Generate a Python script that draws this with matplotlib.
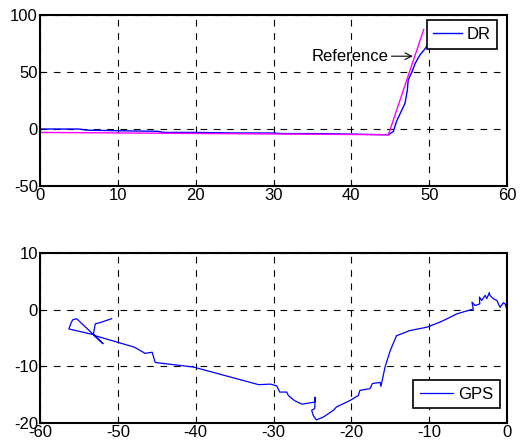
import matplotlib.pyplot as plt

plt.rcParams['font.family'] = ['Liberation Sans', 'DejaVu Sans']
plt.rcParams['font.size'] = 12
plt.rcParams['axes.unicode_minus'] = False

# top plot: DR heading vs reference
dr_x = [0, 5, 6, 10, 15, 16, 20, 25, 30, 31, 35, 40, 44.0, 44.76, 45.4, 45.8, 46.3,
        46.9, 47.2, 47.3, 47.8, 48.2, 48.8, 49.5, 49.9]
dr_y = [0, 0, -1, -1.5, -2, -3, -3, -3.5, -3.5, -4, -4, -4.5, -5, -5, -2.1, 6.6, 14,
        22.7, 34.4, 43, 50.4, 57.7, 65, 70.8, 75.2]
ref_x = [0, 44.76, 49.3]
ref_y = [-3, -5, 87.5]

# bottom plot: GPS track
gps_x = [0, -0.25, -0.46, -0.9, -1.3, -1.76, -2.2, -2.27, -2.6, -2.8, -3.25, -3.55, -3.5,
         -4.1, -4.5, -4.33, -6.46, -7.3, -8.6, -10.3, -12.5, -14.2, -15.0, -15.67, -16.2,
         -16.3, -17.3, -17.6, -18.9, -19.1, -20.2, -21.9, -22.3, -23.6, -24.5, -24.9,
         -25.1, -24.7, -24.67, -24.7, -24.9, -26.2, -26.4, -27.3, -28.1, -28.3, -29.2,
         -29.6, -30.4, -31.9, -40.3, -45.2, -45.4, -45.6, -46.5, -47.5, -47.9, -52.9,
         -53.15, -56.3, -56.0, -55.8, -55.3, -51.9, -53.15, -52.9, -52.3, -50.8]
gps_y = [0, 1.0, 1.2, 0.4, 1.6, 1.9, 2.5, 3.0, 1.9, 2.5, 1.6, 2.2, 1.0,
         0.7, 1.3, 0.1, -0.76, -1.35, -2.2, -3.1, -3.7, -4.6, -7.2, -10.1, -13.5,
         -12.8, -13.0, -13.9, -14.2, -15.1, -16.0, -17.1, -17.7, -18.9, -19.4, -18.6,
         -17.7, -17.4, -15.4, -16.3, -16.3, -16.6, -16.6, -16.0, -15.1, -14.5, -14.5,
         -13.4, -13.1, -13.2, -10.1, -9.3, -8.4, -7.5, -7.7, -6.9, -6.6, -4.6,
         -4.4, -3.4, -2.3, -1.8, -1.6, -6.0, -4.4, -2.5, -2.3, -1.6]


def style_axes(ax):
    for s in ax.spines.values():
        s.set_linewidth(1.5)
    ax.grid(True, color='black', linestyle=(0, (6, 6)), linewidth=0.8)
    ax.tick_params(direction='in', length=3, pad=1.5, labelsize=12)


fig = plt.figure(figsize=(5.2, 4.48), dpi=100)
ax1 = fig.add_axes([0.077, 0.585, 0.898, 0.381])
ax2 = fig.add_axes([0.077, 0.055, 0.898, 0.381])

ax1.plot(dr_x, dr_y, color='#0000ff', lw=1, label='DR')
ax1.plot(ref_x, ref_y, color='#ff00ff', lw=1)
ax1.set_xlim(0, 60)
ax1.set_ylim(-50, 100)
ax1.set_xticks(range(0, 61, 10))
ax1.set_yticks([-50, 0, 50, 100])
ax1.annotate('Reference', xy=(47.9, 64), xytext=(44.8, 64), ha='right', va='center',
             fontsize=12,
             arrowprops=dict(arrowstyle='->', color='black', lw=0.8, shrinkA=0, shrinkB=0))
leg1 = ax1.legend(loc='upper right', bbox_to_anchor=(0.979, 0.97), borderaxespad=0,
                  fancybox=False, edgecolor='black', framealpha=1,
                  handlelength=1.7, fontsize=12, borderpad=0.4, handletextpad=0.3)
leg1.get_frame().set_linewidth(1.2)
style_axes(ax1)

ax2.plot(gps_x, gps_y, color='#0000ff', lw=0.9, label='GPS')
ax2.set_xlim(-60, 0)
ax2.set_ylim(-20, 10)
ax2.set_xticks(range(-60, 1, 10))
ax2.set_yticks([-20, -10, 0, 10])
leg2 = ax2.legend(loc='lower right', bbox_to_anchor=(0.985, 0.088), borderaxespad=0,
                  fancybox=False, edgecolor='black', framealpha=1,
                  handlelength=2.0, fontsize=12, borderpad=0.4, handletextpad=0.3)
leg2.get_frame().set_linewidth(1.2)
style_axes(ax2)

fig.savefig('out.png', dpi=100)
